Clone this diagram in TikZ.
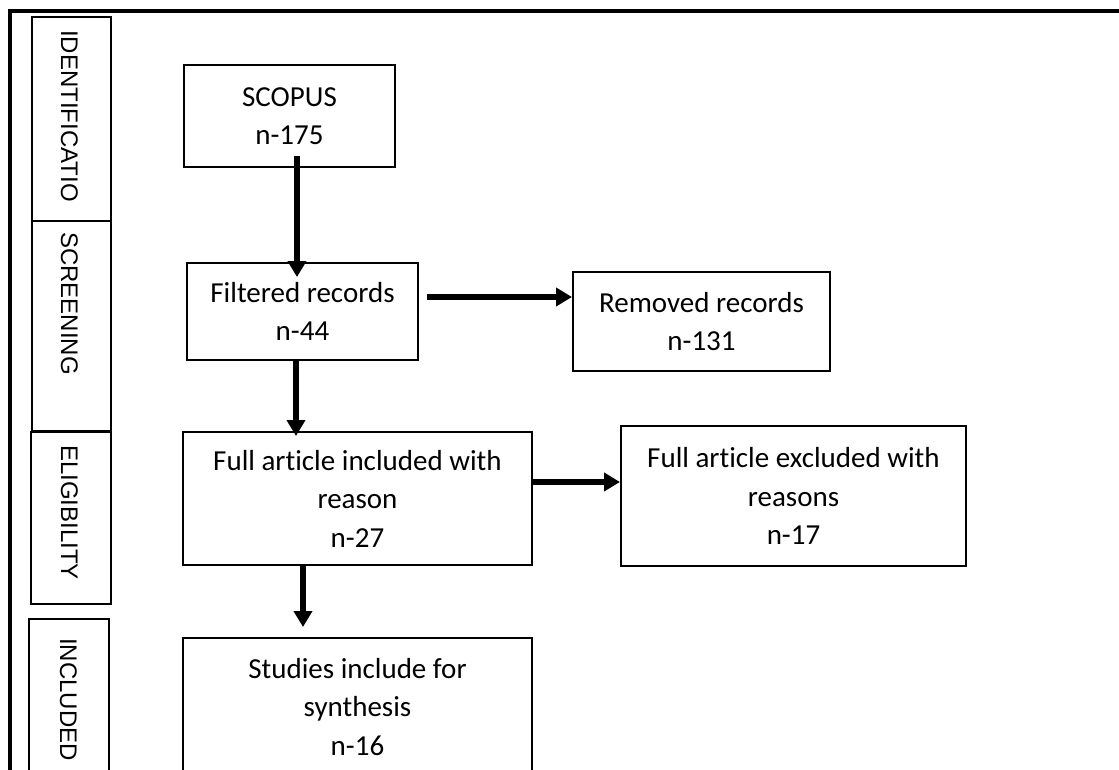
\documentclass[tikz,border=0pt]{standalone}
\usepackage{fontspec}
\setmainfont{Carlito}[Ligatures=NoCommon]
\newfontfamily\sidefont{Liberation Sans}
\usetikzlibrary{arrows.meta}
\begin{document}
\begin{tikzpicture}[x=1pt,y=-1pt,
  box/.style={draw, line width=2pt, inner sep=0pt, align=center, font=\fontsize{29}{38.5}\selectfont},
  side/.style={draw, line width=1.3pt, inner sep=0pt},
  sidetext/.style={rotate=-90, anchor=base west, inner sep=0pt, font=\sidefont\fontsize{24}{28}\selectfont},
  arr/.style={line width=6.5pt, -{Triangle[width=18pt,length=16pt]}}]
\useasboundingbox (0,0) rectangle (1119,769);
\clip (0,0) rectangle (1119,769);
% outer frame
\draw[line width=4pt] (10,800) -- (10,11) -- (1130,11);
% side stage boxes
\node[side, minimum width=79pt, minimum height=204pt] (sid) at (71.5,119) {};
\node[side, minimum width=79pt, minimum height=210pt] (ssc) at (71.5,326) {};
\node[side, minimum width=80pt, minimum height=172pt] (sel) at (71,518) {};
\node[side, minimum width=80pt, minimum height=170pt] (sin) at (69,704) {};
\node[sidetext] (tid) at (61,30) {IDENTIFICATIO};
\node[sidetext] (tsc) at (61,232) {SCREENING};
\node[sidetext] (tel) at (61,445) {ELIGIBILITY};
\node[sidetext] (tin) at (60,638) {INCLUDED};
% main boxes
\node[box, minimum width=211pt, minimum height=102pt] (scopus) at (289.5,116) {SCOPUS\\n-175};
\node[box, minimum width=231pt, minimum height=97pt] (filtered) at (302.5,311.5) {Filtered records\\n-44};
\node[box, minimum width=257pt, minimum height=99pt] (removed) at (701.5,321.5) {Removed records\\n-131};
\node[box, minimum width=349pt, minimum height=133pt] (incl) at (357.5,498.5) {Full article included with\\reason\\n-27};
\node[box, minimum width=345pt, minimum height=140pt] (excl) at (793.5,496) {Full article excluded with\\reasons\\n-17};
\node[box, minimum width=349pt, minimum height=138pt] (studies) at (357.5,707) {Studies include for\\synthesis\\n-16};
% arrows
\draw[arr, shorten <=-12pt, shorten >=-15pt] ([xshift=7.5pt]scopus.south) -- ([xshift=7.5pt]scopus.south |- filtered.north);
\draw[arr, shorten <=8pt] ([yshift=14.5pt]filtered.east) -- ([yshift=14.5pt]filtered.east -| removed.west);
\draw[arr, shorten >=-5pt] ([xshift=-6.5pt]filtered.south) -- ([xshift=-6.5pt]filtered.south |- incl.north);
\draw[arr] ([yshift=16.5pt]incl.east) -- ([yshift=16.5pt]incl.east -| excl.west);
\draw[arr, shorten >=10pt] ([xshift=-54.5pt]incl.south) -- ([xshift=-54.5pt]incl.south |- studies.north);
\end{tikzpicture}
\end{document}
